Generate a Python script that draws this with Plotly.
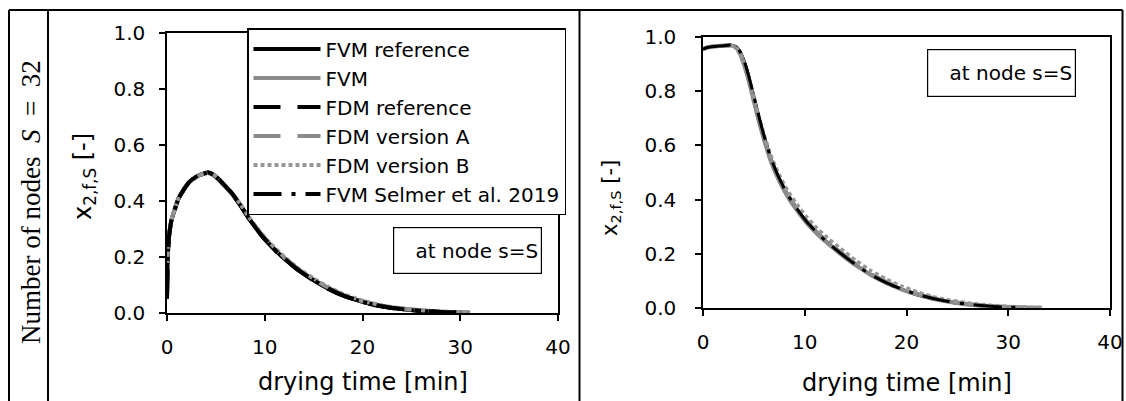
import plotly.graph_objects as go

W, H = 1126, 401

# ---------------- data: left panel (S = 32, node s=S, first plot) ----------------
t_left = [0, 0.08, 0.2, 0.45, 0.8, 1.2, 1.7, 2.3, 3.0, 3.7, 4.2, 4.7, 5.3, 6.0, 6.7, 7.5,
          8.5, 9.5, 10.5, 11.5, 12.5, 13.5, 15, 16.5, 18, 20, 22, 24, 26, 28, 30, 31]
left_fvm_ref = [0.05, 0.20, 0.27, 0.33, 0.37, 0.41, 0.44, 0.468, 0.487, 0.498, 0.502, 0.496, 0.478,
                0.452, 0.425, 0.385, 0.332, 0.285, 0.245, 0.21, 0.18, 0.152, 0.117, 0.087, 0.063,
                0.04, 0.024, 0.014, 0.008, 0.004, 0.002, None]
left_fvm = [0.18, 0.22, 0.275, 0.332, 0.372, 0.411, 0.441, 0.468, 0.486, 0.497, 0.500, 0.494, 0.476,
            0.450, 0.423, 0.384, 0.332, 0.286, 0.246, 0.211, 0.181, 0.153, 0.118, 0.088, 0.064,
            0.041, 0.025, 0.015, 0.009, 0.005, 0.003, 0.002]
left_fdm_ref = [0.06, 0.20, 0.27, 0.33, 0.37, 0.41, 0.44, 0.467, 0.486, 0.497, 0.501, 0.495, 0.477,
                0.451, 0.424, 0.384, 0.331, 0.284, 0.244, 0.209, 0.179, 0.151, 0.116, 0.086, 0.062,
                0.039, 0.023, 0.013, 0.007, 0.003, 0.002, None]
left_fdm_a = [0.18, 0.22, 0.275, 0.332, 0.372, 0.411, 0.441, 0.468, 0.486, 0.497, 0.500, 0.495, 0.477,
              0.452, 0.425, 0.386, 0.334, 0.288, 0.248, 0.213, 0.183, 0.155, 0.12, 0.09, 0.066,
              0.042, 0.026, 0.016, 0.009, 0.005, 0.003, 0.002]
left_fdm_b = [0.18, 0.22, 0.275, 0.332, 0.372, 0.411, 0.441, 0.468, 0.486, 0.497, 0.500, 0.496, 0.479,
              0.454, 0.428, 0.389, 0.337, 0.291, 0.251, 0.216, 0.186, 0.158, 0.123, 0.093, 0.068,
              0.044, 0.027, 0.017, 0.010, 0.005, 0.003, 0.002]
left_selmer = [0.05, 0.20, 0.27, 0.33, 0.37, 0.41, 0.44, 0.468, 0.487, 0.498, 0.502, 0.496, 0.478,
               0.452, 0.425, 0.385, 0.332, 0.285, 0.245, 0.21, 0.18, 0.152, 0.117, 0.087, 0.063,
               0.04, 0.024, 0.014, 0.008, 0.004, 0.002, None]

# ---------------- data: right panel ----------------
t_right = [0, 0.5, 1, 2, 2.8, 3.3, 3.7, 4.1, 4.5, 5.0, 5.5, 6.0, 6.7, 7.5, 8.3, 9.2, 10.2,
           11.2, 12.2, 13.5, 15, 16.5, 18, 19.5, 21, 22.5, 24, 26, 28, 30, 31.3, 33.3]
right_fvm_ref = [0.955, 0.962, 0.965, 0.968, 0.970, 0.963, 0.942, 0.905, 0.855, 0.78, 0.705, 0.635,
                 0.55, 0.478, 0.42, 0.368, 0.318, 0.278, 0.243, 0.203, 0.16, 0.123, 0.094, 0.07,
                 0.051, 0.036, 0.025, 0.014, 0.007, 0.003, 0.002, None]
right_fvm = [0.955, 0.962, 0.965, 0.968, 0.968, 0.958, 0.932, 0.89, 0.838, 0.762, 0.688, 0.62,
             0.538, 0.468, 0.412, 0.362, 0.313, 0.274, 0.24, 0.2, 0.158, 0.122, 0.093, 0.069,
             0.05, 0.035, 0.024, 0.013, 0.007, 0.003, 0.002, 0.001]
right_fdm_ref = [0.955, 0.962, 0.965, 0.968, 0.970, 0.962, 0.94, 0.902, 0.852, 0.777, 0.702, 0.632,
                 0.548, 0.476, 0.418, 0.366, 0.316, 0.276, 0.241, 0.201, 0.158, 0.121, 0.092, 0.068,
                 0.049, 0.034, 0.023, 0.013, 0.006, 0.003, 0.002, None]
right_fdm_a = [0.955, 0.962, 0.965, 0.968, 0.968, 0.958, 0.934, 0.893, 0.842, 0.768, 0.694, 0.626,
               0.545, 0.475, 0.419, 0.369, 0.320, 0.280, 0.246, 0.206, 0.163, 0.126, 0.097, 0.073,
               0.053, 0.038, 0.026, 0.015, 0.008, 0.004, 0.002, 0.001]
right_fdm_b = [0.955, 0.962, 0.965, 0.968, 0.968, 0.959, 0.936, 0.897, 0.848, 0.776, 0.704, 0.638,
               0.558, 0.489, 0.433, 0.383, 0.334, 0.294, 0.259, 0.219, 0.175, 0.137, 0.106, 0.080,
               0.059, 0.042, 0.030, 0.018, 0.010, 0.005, 0.003, 0.001]
right_selmer = [0.955, 0.962, 0.965, 0.968, 0.970, 0.963, 0.942, 0.905, 0.855, 0.78, 0.705, 0.635,
                0.55, 0.478, 0.42, 0.368, 0.318, 0.278, 0.243, 0.203, 0.16, 0.123, 0.094, 0.07,
                0.051, 0.036, 0.025, 0.014, 0.007, 0.003, 0.002, None]

series_names = ["FVM reference", "FVM", "FDM reference", "FDM version A",
                "FDM version B", "FVM Selmer et al. 2019"]
x_ticks = [0, 10, 20, 30, 40]
y_ticks = [0.0, 0.2, 0.4, 0.6, 0.8, 1.0]

BLACK = "#000000"
GRAY = "#8a8a8a"
GRAY_DOT = "#979797"
styles = {
    "FVM reference": dict(color=BLACK, dash="solid", width=4),
    "FVM": dict(color=GRAY, dash="solid", width=4),
    "FDM reference": dict(color=BLACK, dash="27px,17px", width=4),
    "FDM version A": dict(color=GRAY, dash="27px,17px", width=4),
    "FDM version B": dict(color=GRAY_DOT, dash="4px,3px", width=4),
    "FVM Selmer et al. 2019": dict(color=BLACK, dash="28px,10px,4px,10px", width=4),
}
rank = {n: i + 1 for i, n in enumerate(series_names)}

left_vals = {"FVM reference": left_fvm_ref, "FVM": left_fvm, "FDM reference": left_fdm_ref,
             "FDM version A": left_fdm_a, "FDM version B": left_fdm_b,
             "FVM Selmer et al. 2019": left_selmer}
right_vals = {"FVM reference": right_fvm_ref, "FVM": right_fvm, "FDM reference": right_fdm_ref,
              "FDM version A": right_fdm_a, "FDM version B": right_fdm_b,
              "FVM Selmer et al. 2019": right_selmer}

left_order = ["FVM", "FVM reference", "FDM version A", "FDM reference", "FDM version B",
              "FVM Selmer et al. 2019"]
right_order = ["FVM reference", "FDM reference", "FVM", "FDM version A", "FDM version B",
               "FVM Selmer et al. 2019"]

fig = go.Figure()
for n in left_order:
    fig.add_trace(go.Scatter(x=t_left, y=left_vals[n], mode="lines", name=n,
                             line=dict(shape="spline", smoothing=0.6, **styles[n]),
                             legendrank=rank[n], xaxis="x", yaxis="y", showlegend=True))
for n in right_order:
    st = dict(styles[n])
    if st["color"] == BLACK:
        st["width"] = 3
    fig.add_trace(go.Scatter(x=t_right, y=right_vals[n], mode="lines", name=n,
                             line=dict(shape="spline", smoothing=0.6, **st),
                             xaxis="x2", yaxis="y2", showlegend=False))

FONT = "DejaVu Sans"
axis_common = dict(showline=True, linecolor="black", linewidth=1.5, mirror=True,
                   ticks="outside", ticklen=6, tickwidth=1.5, tickcolor="black",
                   showgrid=False, zeroline=False, automargin=False,
                   tickfont=dict(family=FONT, size=20, color="black"))

def px(x):
    return x / W

def py(y):
    return 1 - y / H

fig.update_layout(
    template="none",
    width=W, height=H, margin=dict(l=0, r=0, t=0, b=0, pad=0),
    paper_bgcolor="white", plot_bgcolor="white",
    xaxis=dict(domain=[px(167), px(558)], range=[0, 40], tickvals=x_ticks, anchor="y",
               ticklabelstandoff=9, **axis_common),
    yaxis=dict(domain=[py(313), py(33)], range=[0, 1], tickvals=y_ticks, tickformat=".1f",
               anchor="x", ticklabelstandoff=10, **axis_common),
    xaxis2=dict(domain=[px(703), px(1110)], range=[0, 40], tickvals=x_ticks, anchor="y2",
                ticklabelstandoff=9, **axis_common),
    yaxis2=dict(domain=[py(308), py(37)], range=[0, 1], tickvals=y_ticks, tickformat=".1f",
                anchor="x2", ticklabelstandoff=15, **axis_common),
    legend=dict(x=px(247), y=py(28), xanchor="left", yanchor="top",
                bgcolor="white", bordercolor="black", borderwidth=1.5,
                font=dict(family=FONT, size=20, color="black"),
                itemwidth=67, tracegroupgap=0),
    showlegend=True,
)

annotations = [
    dict(text="drying time [min]", xref="x domain", x=0.5, yref="paper", y=py(382),
         xanchor="center", yanchor="middle", showarrow=False,
         font=dict(family=FONT, size=24, color="black")),
    dict(text="drying time [min]", xref="x2 domain", x=0.5, yref="paper", y=py(383),
         xanchor="center", yanchor="middle", showarrow=False,
         font=dict(family=FONT, size=24, color="black")),
    dict(text="x<sub>2,f,S</sub> [-]", xref="paper", x=px(85), yref="paper", y=py(177),
         xanchor="center", yanchor="middle", textangle=-90, showarrow=False,
         font=dict(family=FONT, size=24, color="black")),
    dict(text="x<sub>2,f,S</sub> [-]", xref="paper", x=px(611), yref="paper", y=py(198),
         xanchor="center", yanchor="middle", textangle=-90, showarrow=False,
         font=dict(family=FONT, size=21, color="black")),
    dict(text="at node s=S", xref="paper", x=px(467.5), yref="paper", y=py(250.5),
         xanchor="center", yanchor="middle", showarrow=False,
         font=dict(family=FONT, size=20, color="black"),
         bgcolor="white", bordercolor="black", borderwidth=1.2, borderpad=3,
         width=141, height=39, align="right", valign="middle"),
    dict(text="at node s=S", xref="paper", x=px(1001), yref="paper", y=py(73),
         xanchor="center", yanchor="middle", showarrow=False,
         font=dict(family=FONT, size=20, color="black"),
         bgcolor="white", bordercolor="black", borderwidth=1.2, borderpad=3,
         width=141, height=40, align="right", valign="middle"),
    dict(text="Number of nodes\u00a0\u00a0<i>S</i>\u00a0\u00a0=\u00a0\u00a032", xref="paper", x=px(31),
         yref="paper", y=py(202), xanchor="center", yanchor="middle", textangle=-90,
         showarrow=False, font=dict(family="Liberation Serif", size=27, color="black")),
]
fig.update_layout(annotations=annotations)

frame = dict(type="line", xref="paper", yref="paper", line=dict(color="black", width=2))
shapes = [
    dict(x0=px(9), x1=px(1122.5), y0=py(10), y1=py(10), **frame),
    dict(x0=px(9), x1=px(9), y0=py(10), y1=0, **frame),
    dict(x0=px(48), x1=px(48), y0=py(10), y1=0, **frame),
    dict(x0=px(579.5), x1=px(579.5), y0=py(10), y1=0, **frame),
    dict(x0=px(1122.5), x1=px(1122.5), y0=py(10), y1=0, **frame),
]
fig.update_layout(shapes=shapes)

fig.write_html("out.html")
